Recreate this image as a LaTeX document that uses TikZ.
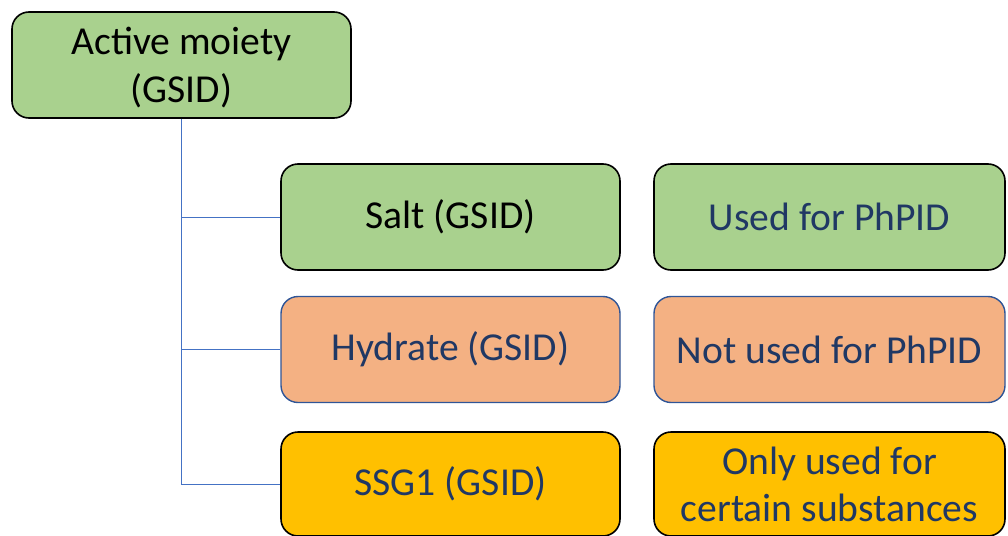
\documentclass[tikz,border=0pt]{standalone}
\usepackage{fontspec}
\setmainfont{Carlito}
\definecolor{boxgreen}{HTML}{A9D18E}
\definecolor{boxorange}{HTML}{F4B183}
\definecolor{boxgold}{HTML}{FFC000}
\definecolor{navytext}{HTML}{203864}
\definecolor{edgeblue}{HTML}{2F5597}
\definecolor{linkblue}{HTML}{4472C4}
% two centred lines whose lower baseline sits 37pt under the card centre
\newcommand{\twolines}[2]{\raisebox{-37pt}[0pt][0pt]{\begin{tabular}[b]{@{}c@{}}#1\\#2\end{tabular}}}
\begin{document}
\begin{tikzpicture}[x=1pt,y=1pt,
  card/.style={rounded corners=17pt, minimum height=106pt, inner sep=0pt,
    align=center, font=\fontsize{39.6}{47}\selectfont},
  leftcard/.style={card, minimum width=339pt},
  rightcard/.style={card, minimum width=351pt},
  greencard/.style={fill=boxgreen, draw=black, line width=1.6pt},
  orangecard/.style={fill=boxorange, draw=edgeblue, line width=1.4pt, text=navytext},
  goldcard/.style={fill=boxgold, draw=black, line width=1.6pt, text=navytext},
  link/.style={draw=linkblue, line width=0.9pt}]
\useasboundingbox (0,0) rectangle (1008,-535);

\node[leftcard, greencard] (top) at (181.5,-65) {\twolines{Active moiety}{(GSID)}};

\node[leftcard, greencard] (salt) at (450.5,-217) {Salt (GSID)};
\node[rightcard, greencard, text=navytext] (used) at (829.5,-217) {Used for PhPID};

\node[leftcard, orangecard] (hydrate) at (450.5,-349.5) {Hydrate (GSID)};
\node[rightcard, orangecard] (notused) at (829.5,-349.5) {Not used for PhPID};

\node[leftcard, goldcard, minimum height=104pt] (ssg) at (450.5,-484) {SSG1 (GSID)};
\node[rightcard, goldcard, minimum height=104pt] (only) at (829.5,-484) {\twolines{Only used for}{certain substances}};

\draw[link] (top.south) |- (salt.west);
\draw[link] (top.south) |- (hydrate.west);
\draw[link] (top.south) |- (ssg.west);
\end{tikzpicture}
\end{document}
